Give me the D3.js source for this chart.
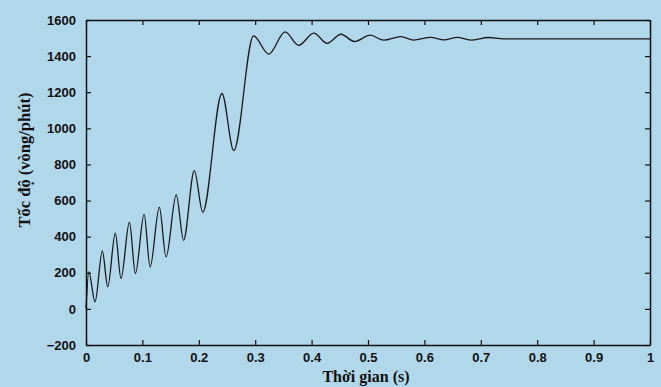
<!DOCTYPE html>
<html>
<head>
<meta charset="utf-8">
<script src="https://cdn.jsdelivr.net/npm/d3@7"></script>
<style>
    body { margin: 0; background: #b1d7ea; }
    svg { display: block; }
</style>
</head>
<body>
<div id="speed-container"></div>
<script>
    // Time values (s), at the peaks and dips of the trace
    var timeData = [0, 0.005, 0.016, 0.029, 0.0385, 0.052, 0.062, 0.077, 0.0876, 0.103, 0.1137,
        0.130, 0.142, 0.160, 0.173, 0.192, 0.207, 0.241, 0.262, 0.297, 0.324, 0.353, 0.377,
        0.404, 0.4275, 0.452, 0.476, 0.504, 0.528, 0.558, 0.581, 0.611, 0.635, 0.658, 0.682,
        0.714, 0.74, 1.0];

    // Speed values (rpm) at those times
    var speedData = [0, 205, 39, 321, 122, 420, 168, 481, 196, 523, 232,
        564, 288, 632, 380, 766, 536, 1193, 877, 1512, 1411, 1534, 1460,
        1527, 1471, 1521, 1481, 1516, 1488, 1508, 1489, 1504, 1490, 1504, 1489,
        1503, 1496, 1496];

    // Tick labels
    var xTicks = [0, 0.1, 0.2, 0.3, 0.4, 0.5, 0.6, 0.7, 0.8, 0.9, 1];
    var yTicks = [-200, 0, 200, 400, 600, 800, 1000, 1200, 1400, 1600];

    // Axis titles
    var xTitle = "Thời gian (s)";
    var yTitle = "Tốc độ (vòng/phút)";

    // Size of the whole picture and the margins around the plot box
    var widthSpeed = 661;
    var heightSpeed = 387;
    var marginSpeed = { top: 20, right: 11, bottom: 42, left: 86 };

    var innerWidthSpeed = widthSpeed - marginSpeed.left - marginSpeed.right;
    var innerHeightSpeed = heightSpeed - marginSpeed.top - marginSpeed.bottom;

    // Scales
    var xSpeed = d3.scaleLinear()
        .domain([0, 1])
        .range([0, innerWidthSpeed]);

    var ySpeed = d3.scaleLinear()
        .domain([-200, 1600])
        .range([innerHeightSpeed, 0]);

    // SVG container
    var svgSpeed = d3.select("#speed-container")
        .append("svg")
        .attr("width", widthSpeed)
        .attr("height", heightSpeed)
        .append("g")
        .attr("transform", `translate(${marginSpeed.left}, ${marginSpeed.top})`);

    // Line generator, smooth through the peaks and dips
    var lineSpeed = d3.line()
        .x((d, i) => xSpeed(timeData[i]))
        .y(d => ySpeed(d))
        .curve(d3.curveMonotoneX);

    svgSpeed.append("path")
        .datum(speedData)
        .attr("fill", "none")
        .attr("stroke", "#1a1a1a")
        .attr("stroke-width", 1.3)
        .attr("d", lineSpeed);

    // Axes on all four sides, ticks pointing inward like MATLAB
    var tickFont = "'Liberation Sans', Arial, sans-serif";

    var xAxisBottom = svgSpeed.append("g")
        .attr("transform", `translate(0, ${innerHeightSpeed})`)
        .call(d3.axisBottom(xSpeed).tickValues(xTicks).tickSizeInner(-5).tickSizeOuter(0)
            .tickPadding(8).tickFormat(d3.format("")));

    var xAxisTop = svgSpeed.append("g")
        .call(d3.axisTop(xSpeed).tickValues(xTicks).tickSizeInner(-5).tickSizeOuter(0)
            .tickFormat(""));

    var yAxisLeft = svgSpeed.append("g")
        .call(d3.axisLeft(ySpeed).tickValues(yTicks).tickSizeInner(-5).tickSizeOuter(0)
            .tickPadding(10).tickFormat(d3.format("")));

    var yAxisRight = svgSpeed.append("g")
        .attr("transform", `translate(${innerWidthSpeed}, 0)`)
        .call(d3.axisRight(ySpeed).tickValues(yTicks).tickSizeInner(-5).tickSizeOuter(0)
            .tickFormat(""));

    // Styling the axes
    [xAxisBottom, xAxisTop, yAxisLeft, yAxisRight].forEach(function (ax) {
        ax.select(".domain").attr("stroke", "#111").attr("stroke-width", 1.5);
        ax.selectAll(".tick line").attr("stroke", "#111").attr("stroke-width", 1.2);
        ax.selectAll("text")
            .attr("fill", "#111")
            .style("font-family", tickFont)
            .style("font-weight", "bold")
            .style("font-size", "13px");
    });

    // Axis titles
    svgSpeed.append("text")
        .attr("x", 280)
        .attr("y", innerHeightSpeed + 37)
        .attr("text-anchor", "middle")
        .attr("fill", "#111")
        .style("font-family", "'Liberation Serif', 'Times New Roman', serif")
        .style("font-weight", "bold")
        .style("font-size", "16px")
        .text(xTitle);

    svgSpeed.append("text")
        .attr("transform", "rotate(-90)")
        .attr("x", -140)
        .attr("y", -56)
        .attr("text-anchor", "middle")
        .attr("fill", "#111")
        .style("font-family", "'Liberation Serif', 'Times New Roman', serif")
        .style("font-weight", "bold")
        .style("font-size", "16.5px")
        .text(yTitle);
</script>
</body>
</html>
